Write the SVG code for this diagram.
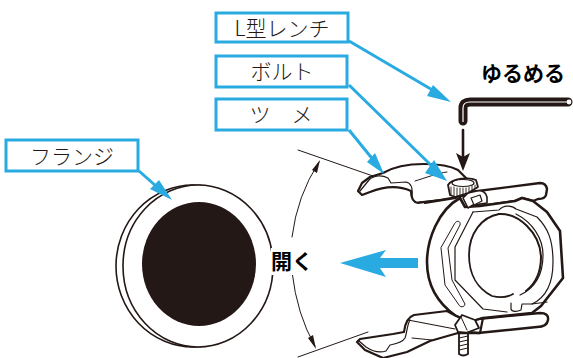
<svg xmlns="http://www.w3.org/2000/svg" width="573" height="358" viewBox="0 0 573 358">
<style>
.box{fill:#fff;stroke:#29abe2;stroke-width:3}
.lbl{font-family:"Noto Sans CJK JP","Noto Sans",sans-serif;font-size:21px;font-weight:300;fill:#231815;text-anchor:middle}
.bold{font-family:"Noto Sans CJK JP","Noto Sans",sans-serif;font-weight:700;fill:#000}
.lead{fill:none;stroke:#29abe2;stroke-width:3}
.head{fill:#29abe2}
.k{fill:none;stroke:#231815;stroke-linejoin:round;stroke-linecap:round}
.w{fill:#fff;stroke:#231815;stroke-linejoin:round;stroke-linecap:round}
</style>
<g id="flange">
<ellipse class="k" cx="193" cy="266" rx="77" ry="81" stroke-width="1.6"/>
<ellipse class="w" cx="198" cy="266" rx="75" ry="81" stroke-width="1.6"/>
<ellipse cx="199" cy="264" rx="57" ry="62" fill="#231815"/>
</g>
<g id="wedge">
<path class="k" d="M298 150L373 176M298 357L368 332" stroke-width="1"/>
<path class="k" d="M319 162Q297 196 292 237M292 272Q297 315 315 346" stroke-width="1"/>
<path d="M320 160L317 173L312 170ZM316 349L308 338L313 335Z" fill="#231815"/>
</g>
<g id="clamp">
<!-- bars -->
<path class="w" stroke-width="2.4" d="M470 192L540 183Q546 183 547 189L546 195Q545 199 538 199L533 201L522 198L515 201L480 206Z"/>
<path class="w" stroke-width="2.4" d="M478 319L540 313Q549 313 548 320Q547 327 537 327L478 333Z"/>
<!-- body -->
<path class="w" stroke-width="2.6" d="M460 198C438 210 427 240 427 262C427 285 436 302 456 316L470 322L483 318L532 313L541 306L563 278L560 231L547 212L533 201L522 198L515 201L480 206L465 207Z"/>
<path class="k" stroke-width="1.2" d="M473 212L455 247L455 280L483 309L507 312"/>
<path class="k" stroke-width="1.2" d="M473 212L499 210C503 205 512 205 516 209L537 217C548 228 553 240 553 262C553 285 545 298 532 304L522 304L521 310C517 312 512 312 511 309L511 303"/>
<path class="k" stroke-width="1.2" d="M532 304L547 302"/>
<path class="k" stroke-width="1" d="M455 223C457 220 461 221 460 225L448 248L452 280L465 304C464 308 460 307 459 305L445 285L441 248Z"/>
<path class="k" stroke-width="1.2" d="M516 214C532 222 543 238 543 255C543 275 535 288 520 295"/>
<path class="k" stroke-width="1.8" d="M499 214C482 217 469 233 469 255C469 275 478 289 492 296C500 298 508 297 513 294"/>
<path class="k" stroke-width="2" d="M499 214C518 213 540 232 541 257C541 272 535 284 526 291"/>
<!-- top claw -->
<path class="w" stroke-width="2.2" d="M383 173C405 160 445 163 458 170L470 182L468 195L440 200L418 203C412 202 411 196 411 191C400 186 385 186 370 192L362 195L358 191L362 183L370 177Z"/>
<path class="k" stroke-width="1.2" d="M360 191L369 180C374 175 382 175 388 178L391 183L406 182C411 183 413 187 412 196"/>
<path class="k" stroke-width="1" d="M415 181C425 178 438 173 447 172M418 202L455 198"/>
<path class="k" stroke-width="2.2" d="M425 203L456 198"/>
<!-- fitting top -->
<path class="w" stroke-width="1.6" d="M463 198L468 208L473 205L487 203L487 197C486 192 482 190 477 191L468 193Z"/>
<path class="w" stroke-width="1.2" d="M471 198L480 195L482 201L474 205Z"/>
<!-- knob -->
<path class="w" stroke-width="1.8" d="M448 185C452 178 470 177 476 180L478 187L468 193L455 197L450 195Z"/>
<path class="k" stroke-width=".9" d="M451 187V195M454 187V196M457 188V196M460 188V195M463 188V194M466 188V193M469 187V192M472 186V190M475 185V188"/>
<ellipse class="w" cx="463" cy="183" rx="11" ry="3.5" stroke-width="1.2"/>
<!-- bottom claw -->
<path class="w" stroke-width="2.2" d="M447 311L414 315C408 317 405 323 404 332L393 334L360 339L357 342L365 350L383 358L407 352L430 341L458 333L470 332L480 333L483 318L470 322L456 316Z"/>
<path class="k" stroke-width="1.2" d="M408 320L455 329M410 320C407 325 407 333 405 338C402 343 395 344 390 345L386 351C380 353 372 351 366 347L359 341"/>
<path class="k" stroke-width="1" d="M412 338L432 340"/>
<!-- screw -->
<path class="w" stroke-width="1.8" d="M459 332V354Q463 357 468 354V332Z"/>
<path class="k" stroke-width="1" d="M459 338L468 336M459 342L468 340M459 346L468 344M459 350L468 348"/>
<!-- bottom fitting -->
<path class="w" stroke-width="1.8" d="M455 325L462 315L475 320L479 328L466 333L458 332Z"/>
<path class="k" stroke-width="1" d="M461 317L467 330"/>
<path class="k" stroke-width="2.4" d="M458 333L480 333"/>
</g>
<g id="wrench">
<path class="k" d="M463 121V108Q463 102 470 102H568" stroke-width="9" stroke-linecap="round"/>
<path d="M463 122V108Q463 102 470 102H568" fill="none" stroke="#fff" stroke-width="1.2"/>
<circle cx="569" cy="102" r="2.4" fill="#fff"/>
<path class="k" d="M463 130V160" stroke-width="2.6" stroke-linecap="butt"/>
<path d="M463 171L456 153L463 157L470 153Z" fill="#231815"/>
</g>
<g id="connectors">
<path class="lead" d="M349 41L441 95M349 85L440 174M349 130L379 167M139 171L165 194"/>
<path class="head" d="M451 102L427 96L433 85ZM447 181L425 173L434 160ZM384 174L367 162L375 153ZM172 200L150 189L159 180Z"/>
<path class="head" d="M340 263L386 250L380 258H418V268H380L386 277Z"/>
</g>
<g id="label-wrench"><rect class="box" x="216" y="13" width="132" height="29"/><text class="lbl" x="282" y="36">L型レンチ</text></g>
<g id="label-bolt"><rect class="box" x="216" y="56" width="131" height="31"/><text class="lbl" x="282" y="79">ボルト</text></g>
<g id="label-claw"><rect class="box" x="216" y="99" width="131" height="31"/><text class="lbl" x="281" y="122">ツ　メ</text></g>
<g id="label-flange"><rect class="box" x="6" y="140" width="132" height="31"/><text class="lbl" x="72" y="164">フランジ</text></g>
<text class="bold" x="481" y="81" font-size="21">ゆるめる</text>
<g id="label-open"><rect x="271" y="248" width="40" height="27" fill="#fff"/><text class="bold" x="271" y="269" font-size="21" font-weight="500">開く</text></g>
</svg>
